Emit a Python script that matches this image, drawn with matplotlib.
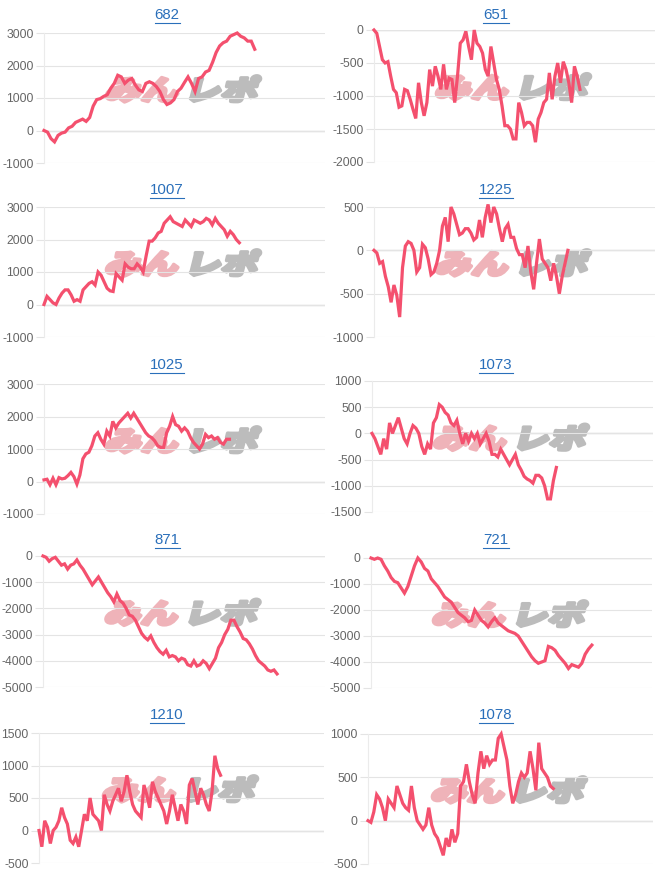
import numpy as np
import matplotlib
matplotlib.use("Agg")
import matplotlib.pyplot as plt
from matplotlib.font_manager import FontProperties
from matplotlib.textpath import TextPath
from matplotlib.patches import PathPatch
from matplotlib.lines import Line2D
from matplotlib.transforms import Affine2D, IdentityTransform

plt.rcParams["font.family"] = ["Liberation Sans", "DejaVu Sans"]
plt.rcParams["axes.unicode_minus"] = False

TITLES = ["682", "651", "1007", "1225", "1025", "1073", "871", "721", "1210", "1078"]

D682 = [0, -50, -250, -350, -150, -80, -50, 80, 130, 250, 300, 350, 280, 400, 750, 950, 980,
        1050, 1100, 1300, 1450, 1700, 1650, 1450, 1550, 1600, 1400, 1250, 1200, 1450, 1500,
        1450, 1350, 1200, 950, 800, 850, 950, 1200, 1300, 1480, 1650, 1450, 1200, 1600, 1650,
        1800, 1850, 2100, 2400, 2600, 2700, 2750, 2900, 2950, 3000, 2900, 2850, 2750, 2750, 2500]
D651 = [0, -50, -250, -450, -500, -480, -700, -900, -950, -1170, -1150, -900, -920, -1050,
        -1200, -1340, -800, -1100, -1300, -1100, -600, -850, -550, -700, -900, -520, -900,
        -730, -750, -1100, -700, -200, -150, -20, -250, -450, 0, -200, -250, -350, -600, -700,
        -250, -500, -750, -900, -1150, -1450, -1450, -1500, -1650, -1650, -1100, -1250, -1450,
        -1400, -1400, -1450, -1700, -1350, -1250, -1100, -1050, -650, -1050, -700, -500, -800,
        -480, -600, -800, -1100, -550, -700, -900]
D1007 = [0, 250, 150, 50, 0, 200, 350, 450, 450, 300, 100, 150, 100, 450, 550, 650, 700, 600,
         1000, 900, 700, 500, 420, 400, 950, 850, 750, 1250, 1150, 1100, 1100, 1250, 1150, 1000,
         1500, 1950, 1950, 2050, 2200, 2250, 2500, 2600, 2700, 2550, 2500, 2450, 2400, 2600,
         2500, 2400, 2600, 2550, 2500, 2550, 2650, 2600, 2450, 2650, 2500, 2400, 2300, 2100,
         2250, 2150, 2000, 1900]
D1225 = [0, -30, -150, -130, -300, -420, -600, -400, -520, -770, -200, 50, 100, 80, 0, -250,
         -200, 70, 30, -100, -280, -250, -150, 0, 280, 380, 100, 500, 420, 300, 180, 200, 250,
         250, 200, 120, 150, 350, 150, 380, 530, 320, 500, 420, 250, 100, 250, 300, 150, 150,
         20, -50, -50, -200, 50, -250, -450, -150, 130, -100, -150, -200, -350, -150, -300,
         -500, -300, -150, 0]
D1025 = [50, 70, -100, 100, -100, 120, 80, 100, 180, 280, 150, -80, 200, 700, 850, 900, 1100,
         1400, 1500, 1300, 1150, 1550, 1400, 1850, 1650, 1800, 1900, 2000, 2100, 1950, 2100,
         1950, 1800, 1650, 1500, 1400, 1350, 1250, 1100, 1050, 1050, 1500, 1700, 2000, 1750,
         1700, 1550, 1650, 1550, 1350, 1200, 1100, 1000, 1150, 1450, 1350, 1400, 1300, 1350,
         1200, 1150, 1300, 1300]
D1073 = [0, -100, -250, -400, -100, -300, 200, 0, 150, 300, 100, -100, -200, 0, 150, 100, 0,
         -250, -400, -200, -300, 200, 300, 550, 500, 400, 350, 200, 150, 250, 0, -200, 0, -150,
         0, -100, 0, -200, -100, 0, -150, -400, -400, -450, -300, -400, -500, -600, -500, -400,
         -600, -700, -820, -870, -900, -950, -800, -800, -850, -1000, -1250, -1250, -900, -650]
D871 = [0, -50, -200, -100, -50, -200, -350, -300, -500, -350, -300, -150, -350, -500, -700,
        -900, -1100, -950, -800, -1000, -1200, -1400, -1550, -1750, -1450, -1700, -1800, -2000,
        -2250, -2300, -2450, -2700, -2950, -3100, -3200, -3050, -3300, -3500, -3650, -3750,
        -3600, -3850, -3800, -3850, -4000, -3900, -3950, -4150, -4200, -4000, -4200, -4150,
        -4000, -4100, -4300, -4100, -3900, -3500, -3300, -3000, -2800, -2450, -2450, -2700,
        -2900, -3150, -3200, -3350, -3550, -3800, -4000, -4100, -4200, -4350, -4400, -4350, -4500]
D721 = [0, -50, 0, -50, -300, -500, -750, -900, -950, -1150, -1350, -1100, -700, -300, 0, -150,
        -400, -500, -800, -950, -1100, -1300, -1500, -1600, -1700, -1900, -2100, -2200, -2300,
        -2450, -2400, -2000, -2200, -2400, -2500, -2650, -2450, -2300, -2500, -2600, -2700,
        -2800, -2850, -2900, -3000, -3200, -3400, -3600, -3800, -3950, -4050, -4000, -3950,
        -3400, -3450, -3550, -3750, -3900, -4050, -4250, -4100, -4150, -4200, -4050, -3700,
        -3500, -3350]
D1210 = [0, -250, 150, 50, -200, 0, 50, 150, 350, 200, 100, -150, -200, -100, -250, 0, 250,
         150, 500, 250, 200, 150, 0, 550, 400, 300, 450, 550, 650, 450, 600, 850, 600, 400, 300,
         250, 200, 700, 550, 350, 750, 600, 500, 400, 300, 100, 300, 550, 350, 150, 400, 300,
         100, 700, 800, 600, 400, 650, 550, 400, 300, 600, 1150, 950, 850]
D1078 = [0, -20, 100, 300, 250, 150, 0, 250, 200, 150, 400, 300, 200, 150, 120, 400, 150, 0,
         -50, -100, -50, 150, -50, -150, -200, -300, -400, -200, -300, -100, -250, -150, 400,
         450, 650, 450, 300, 200, 550, 800, 600, 750, 650, 700, 700, 950, 1000, 850, 700, 400,
         200, 300, 450, 550, 500, 550, 800, 600, 350, 900, 600, 550, 500, 400, 370]

SERIES = [D682, D651, D1007, D1225, D1025, D1073, D871, D721, D1210, D1078]
# share of the x axis the data covers so far
PROGRESS = [0.75, 0.733, 0.695, 0.69, 0.66, 0.656, 0.83, 0.786, 0.637, 0.65]
YMIN = [-1000, -2000, -1000, -1000, -1000, -1500, -5000, -5000, -500, -500]
YMAX = [3000, 0, 3000, 500, 3000, 1000, 0, 0, 1500, 1000]
YSTEP = [1000, 500, 1000, 500, 1000, 500, 1000, 1000, 500, 500]

# axes boxes in pixels: left, top, width, height
BOXES = [(44, 33, 281, 130), (374, 30, 281, 132),
         (44, 207, 281, 130), (374, 207, 281, 130),
         (44, 384, 281, 130), (372, 381, 281, 131),
         (43, 556, 282, 131), (371, 558, 281, 130),
         (39, 733, 285, 130), (368, 734, 285, 130)]

W, H = 658, 876
LINE = "#f4506e"
GRID = "#e4e4e4"
LINK = "#2a6fba"

fig = plt.figure(figsize=(W / 100, H / 100), dpi=100)
fig.patch.set_facecolor("white")


def watermark(ax):
    fp = FontProperties(family="Noto Sans CJK JP", weight="black")
    p1 = TextPath((0, 0), "みん", size=30, prop=fp)
    b1 = p1.get_extents()
    p2 = TextPath((b1.x1 + 6, 0), "レポ", size=30, prop=fp)
    b2 = p2.get_extents()
    x0, x1 = b1.x0, b2.x1
    y0, y1 = min(b1.y0, b2.y0), max(b1.y1, b2.y1)
    cx, cy = ax.transAxes.transform((0.495, 0.57))
    tr = (Affine2D().translate(-(x0 + x1) / 2, -(y0 + y1) / 2)
          .scale(150 / (x1 - x0), 26 / (y1 - y0))
          .skew_deg(14, 0).translate(cx, cy))
    for p, c in ((p1, "#efb3b9"), (p2, "#bcbcbc")):
        ax.add_artist(PathPatch(p, transform=tr, fc=c, ec=c, lw=2.6,
                                joinstyle="round", zorder=1))


titles = []
for i, vals in enumerate(SERIES):
    l, t, w, h = BOXES[i]
    ax = fig.add_axes([l / W, 1 - (t + h) / H, w / W, h / H])
    x = np.arange(len(vals))
    ax.set_xlim(0, (len(vals) - 1) / PROGRESS[i])
    ax.set_ylim(YMIN[i], YMAX[i])
    ax.set_yticks(np.arange(YMIN[i], YMAX[i] + 1, YSTEP[i]))
    ax.set_xticks([])
    ax.grid(axis="y", color=GRID, lw=0.8, zorder=0)
    ax.axhline(0, color="#bababa", lw=0.9, zorder=1.5)
    for s in ("top", "right", "bottom"):
        ax.spines[s].set_visible(False)
    ax.spines["left"].set_color("#ebebeb")
    ax.spines["left"].set_linewidth(0.8)
    ax.tick_params(axis="y", length=6, width=0.8, color=GRID, pad=1.5,
                   labelsize=8.8, labelcolor="#666666")
    watermark(ax)
    ax.plot(x, vals, color=LINE, lw=2.3, zorder=3, clip_on=False,
            solid_joinstyle="miter")

    col, row = i % 2, i // 2
    tx = 167 if col == 0 else 496
    ty = row * 175 + 19
    titles.append(fig.text(tx / W, 1 - ty / H, TITLES[i], ha="center", va="baseline",
                           fontsize=10.8, color=LINK))

fig.canvas.draw()
for t in titles:
    bb = t.get_window_extent()
    y = bb.y0 - 1
    fig.add_artist(Line2D([bb.x0, bb.x1], [y, y], transform=IdentityTransform(),
                          color=LINK, lw=0.8))

fig.savefig("out.png", dpi=100)
